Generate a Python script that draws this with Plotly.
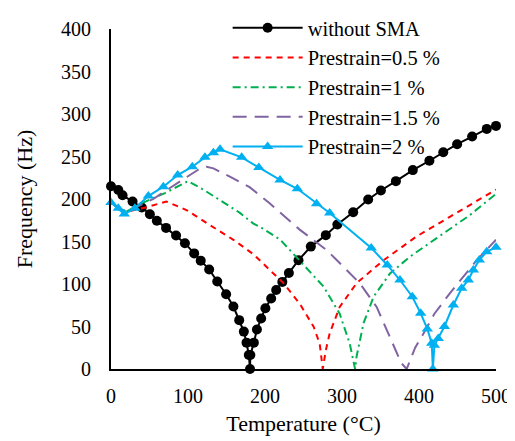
import plotly.graph_objects as go

# without SMA
temp_base = [0, 9.5, 15, 28, 40, 50.5, 59.5, 71.5, 84.5, 96, 108, 116.5, 127.5, 138, 149.5, 159, 166.5,
             172.5, 176, 179, 180.5, 181, 185.5, 189.5, 195, 200.5, 208, 214.5, 222.5, 231, 243.5, 259.5,
             279, 294, 314.5, 334, 350.5, 370, 392, 413.5, 431.5, 449.5, 469, 488, 500]
freq_base = [215, 210.5, 204.5, 197, 190, 182, 174.5, 166, 157, 148, 136, 127.5, 117, 103, 88, 73.5, 57.5,
             44, 31, 16.5, 0, 16.5, 31, 46.5, 59.5, 71.5, 83, 93, 102.5, 113, 128, 144,
             157.5, 170, 184.5, 199.5, 210, 221, 234, 245, 255, 264.5, 273.5, 282.5, 286]

# Prestrain = 0.5 %
temp_p05 = [0, 10, 20, 45, 72, 98, 129, 159, 185, 224, 245, 263, 271, 275, 279, 284, 297, 319, 354, 397, 440, 470, 500]
freq_p05 = [196, 189, 185, 190, 197, 187, 169, 152, 135, 101, 77, 50, 30, 0, 22, 42, 73, 101, 128, 156, 179, 195, 211]

# Prestrain = 1 %
temp_p1 = [0, 10, 20, 40, 70, 100, 120, 144, 167, 185, 194, 220, 232, 241, 258, 276, 297, 310, 317,
           319, 328, 341, 362, 388, 423, 466, 500]
freq_p1 = [196, 189, 185, 195, 207, 221, 211, 197, 184, 171, 167, 152, 140, 131, 115, 97, 65, 30, 0,
           15, 54, 85, 112, 132, 154, 181, 206]

# Prestrain = 1.5 %
temp_p15 = [0, 10, 20, 55, 90, 116, 124, 133, 155, 180, 206, 245, 280, 323, 345, 362, 377, 384,
            388, 395, 406, 420, 440, 475, 500]
freq_p15 = [196, 189, 185, 200, 221, 236, 238, 236, 226, 214, 195, 164, 140, 101, 73, 38, 7, 0,
            10, 25, 42, 65, 89, 128, 152]

# Prestrain = 2 %
temp_p2 = [0, 9.5, 17.3, 31, 48.5, 68, 86.6, 105.6, 122, 133, 141.6, 169.7, 192, 219.5, 242, 267, 284,
           338, 358.8, 375.3, 391.3, 402.2, 410.8, 416.5, 418, 420, 425, 433, 444.6, 455.4, 464, 470.6,
           478.3, 487.9, 500]
freq_p2 = [196, 189, 182.4, 189, 203.5, 214.5, 228.2, 238, 249, 254.5, 258.4, 249, 237, 222.4, 212, 194.5, 183.5,
           142.5, 122.4, 104.7, 85, 65.5, 47.1, 30.2, 0, 28, 36, 50, 75.3, 94.9, 104.7, 116.5,
           128.2, 138, 143.2]

x_ticks = [0, 100, 200, 300, 400, 500]
y_ticks = [0, 50, 100, 150, 200, 250, 300, 350, 400]

FONT = "Liberation Serif, Times New Roman, serif"

fig = go.Figure()
fig.add_trace(go.Scatter(x=temp_base, y=freq_base, name="without SMA", mode="lines+markers",
                         line=dict(color="black", width=2),
                         marker=dict(symbol="circle", size=10, color="black"), cliponaxis=False))
fig.add_trace(go.Scatter(x=temp_p05, y=freq_p05, name="Prestrain=0.5 %", mode="lines",
                         line=dict(color="#FF0000", width=2, dash="6px,5px"), cliponaxis=False))
fig.add_trace(go.Scatter(x=temp_p1, y=freq_p1, name="Prestrain=1 %", mode="lines",
                         line=dict(color="#00B050", width=2, dash="8px,4px,2px,4px"), cliponaxis=False))
fig.add_trace(go.Scatter(x=temp_p15, y=freq_p15, name="Prestrain=1.5 %", mode="lines",
                         line=dict(color="#8064A2", width=2, dash="14px,8px"), cliponaxis=False))
fig.add_trace(go.Scatter(x=temp_p2, y=freq_p2, name="Prestrain=2 %", mode="lines+markers",
                         line=dict(color="#00B0F0", width=2),
                         marker=dict(symbol="triangle-up", size=10, color="#00B0F0"), cliponaxis=False))

# The page body has an 8px margin, so the figure is 507x433 and starts at (8, 8).
fig.update_layout(
    width=507, height=433,
    margin=dict(l=103, r=19, t=21, b=72, autoexpand=False),
    paper_bgcolor="white", plot_bgcolor="white",
    font=dict(family=FONT, size=20, color="black"),
    showlegend=True,
    legend=dict(x=0.303, y=1.0, xref="paper", yref="container", xanchor="left", yanchor="top",
                bgcolor="rgba(0,0,0,0)", font=dict(family=FONT, size=20.5),
                itemwidth=70, tracegroupgap=0),
    xaxis=dict(range=[0, 500], tickvals=x_ticks, showgrid=False, zeroline=False,
               showline=True, linecolor="black", linewidth=2, ticks="", automargin=False,
               ticklabelstandoff=8,
               title=dict(text="Temperature (°C)", font=dict(size=22), standoff=10),
               tickfont=dict(size=20)),
    yaxis=dict(range=[0, 400], tickvals=y_ticks, showgrid=False, zeroline=False,
               showline=True, linecolor="black", linewidth=2, ticks="", automargin=False,
               ticklabelstandoff=14,
               title=dict(text="Frequency (Hz)", font=dict(size=22), standoff=22),
               tickfont=dict(size=20)),
)

fig.write_html("out.html")
